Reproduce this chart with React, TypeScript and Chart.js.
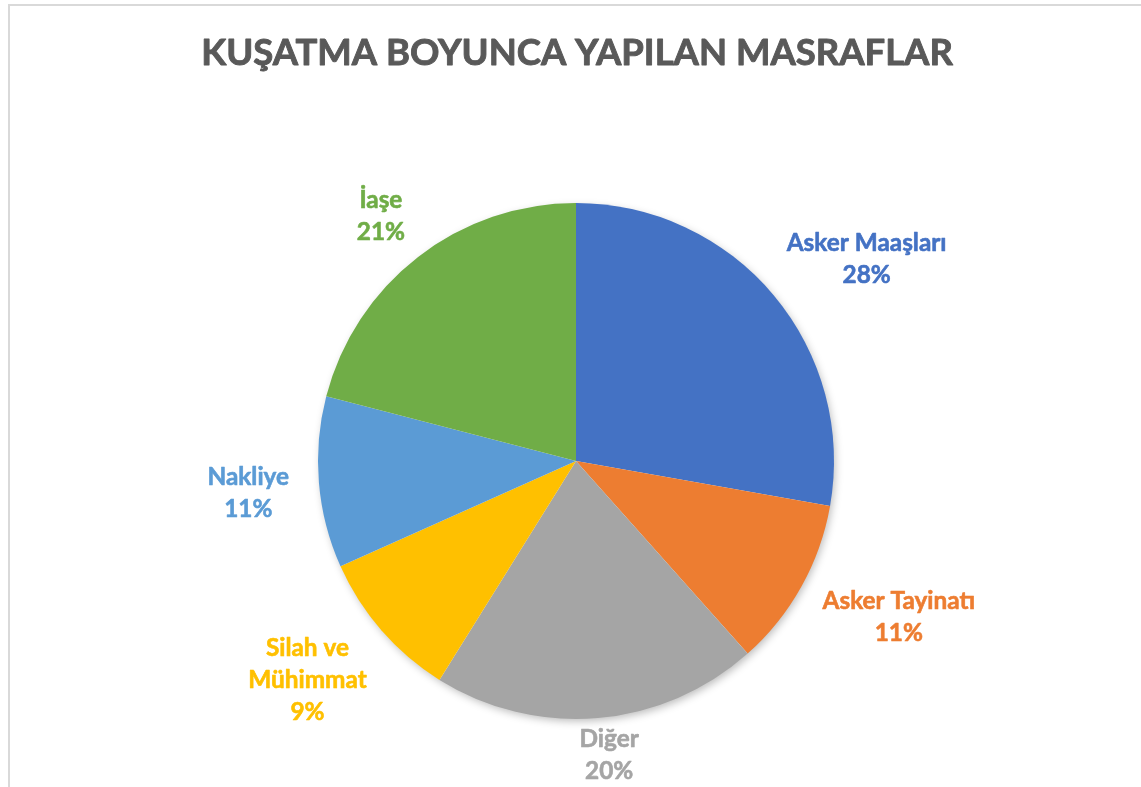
import React, { useEffect, useRef } from "react";
import { Chart, registerables } from "chart.js";

Chart.register(...registerables);

const TITLE = "KUŞATMA BOYUNCA YAPILAN MASRAFLAR";
const categories = ["Asker Maaşları", "Asker Tayinatı", "Diğer", "Silah ve Mühimmat", "Nakliye", "İaşe"];
const values = [27.7, 10.6, 20.4, 9.4, 10.7, 20.9];
const colors = ["#4472C4", "#ED7D31", "#A5A5A5", "#FFC000", "#5B9BD5", "#70AD47"];

const FONT = "Lato, 'Open Sans', sans-serif";

const shadowPlugin = {
  id: "pieShadow",
  beforeDatasetsDraw(chart: any) {
    const arc = chart.getDatasetMeta(0).data[0];
    if (!arc) return;
    const { x, y, outerRadius } = arc;
    const ctx = chart.ctx;
    ctx.save();
    ctx.shadowColor = "rgba(0,0,0,0.28)";
    ctx.shadowBlur = 9;
    ctx.shadowOffsetX = 2;
    ctx.shadowOffsetY = 3;
    ctx.fillStyle = "#ffffff";
    ctx.beginPath();
    ctx.arc(x, y, outerRadius - 1, 0, Math.PI * 2);
    ctx.fill();
    ctx.restore();
  },
};

const soft = (u: number) => Math.sign(u) * Math.sqrt(Math.abs(u));

const labelPlugin = {
  id: "outLabels",
  afterDraw(chart: any) {
    const ctx = chart.ctx;
    const meta = chart.getDatasetMeta(0);
    const total = values.reduce((a, b) => a + b, 0);

    // Title
    ctx.save();
    ctx.font = `bold 100px ${FONT}`;
    const tw = ctx.measureText(TITLE).width;
    const tSize = (100 * 752) / tw;
    ctx.font = `bold ${tSize}px ${FONT}`;
    ctx.fillStyle = "#595959";
    ctx.strokeStyle = "#595959";
    ctx.lineWidth = 0.9;
    ctx.lineJoin = "round";
    ctx.textAlign = "center";
    ctx.textBaseline = "alphabetic";
    ctx.fillText(TITLE, 577, 65);
    ctx.strokeText(TITLE, 577, 65);
    ctx.restore();

    // Data labels
    ctx.save();
    ctx.font = `bold 100px ${FONT}`;
    const ref = ctx.measureText("Asker Maaşları").width;
    const size = (100 * 160) / ref;
    ctx.font = `bold ${size}px ${FONT}`;
    ctx.textAlign = "center";
    ctx.textBaseline = "middle";
    ctx.lineWidth = 0.6;
    ctx.lineJoin = "round";
    const lineH = 32;
    const gapX = 30;
    const gapY = 16;
    const H = chart.height;
    meta.data.forEach((arc: any, i: number) => {
      const name = categories[i];
      let lines: string[];
      if (ctx.measureText(name).width > 180) {
        const words = name.split(" ");
        lines = [words.slice(0, 2).join(" "), words.slice(2).join(" ")];
      } else {
        lines = [name];
      }
      lines.push(Math.round((values[i] / total) * 100) + "%");
      const w = Math.max(...lines.map((l) => ctx.measureText(l).width));
      const h = lines.length * lineH;
      const mid = (arc.startAngle + arc.endAngle) / 2;
      const ux = Math.cos(mid);
      const uy = Math.sin(mid);
      const px = arc.x + (arc.outerRadius + gapX) * ux;
      const py = arc.y + (arc.outerRadius + gapY) * uy;
      const cx = px + soft(ux) * (w / 2);
      let cy = py + soft(uy) * (h / 2);
      cy = Math.min(cy, H - h / 2);
      ctx.fillStyle = colors[i];
      ctx.strokeStyle = colors[i];
      lines.forEach((l, k) => {
        const ly = cy - h / 2 + lineH / 2 + k * lineH;
        ctx.fillText(l, cx, ly);
        ctx.strokeText(l, cx, ly);
      });
    });
    ctx.restore();
  },
};

export default function App() {
  const ref = useRef<HTMLCanvasElement | null>(null);
  useEffect(() => {
    if (!ref.current) return;
    const chart = new Chart(ref.current, {
      type: "pie",
      data: {
        labels: categories,
        datasets: [
          {
            data: values,
            backgroundColor: colors,
            borderWidth: 0,
          },
        ],
      },
      options: {
        animation: false,
        responsive: false,
        layout: { padding: { left: 318, right: 307, top: 203, bottom: 68 } },
        plugins: {
          legend: { display: false },
          title: { display: false },
          tooltip: { enabled: false },
        },
      },
      plugins: [shadowPlugin, labelPlugin],
    });
    return () => chart.destroy();
  }, []);

  return (
    <div style={{ position: "fixed", left: 0, top: 0, width: 1141, height: 787, overflow: "hidden", background: "#fff" }}>
      <div
        style={{
          position: "absolute",
          left: 8,
          top: 4,
          width: 1200,
          height: 900,
          border: "2px solid #d9d9d9",
          boxSizing: "border-box",
        }}
      />
      <canvas ref={ref} width={1141} height={787} style={{ position: "absolute", left: 0, top: 0 }} />
    </div>
  );
}
